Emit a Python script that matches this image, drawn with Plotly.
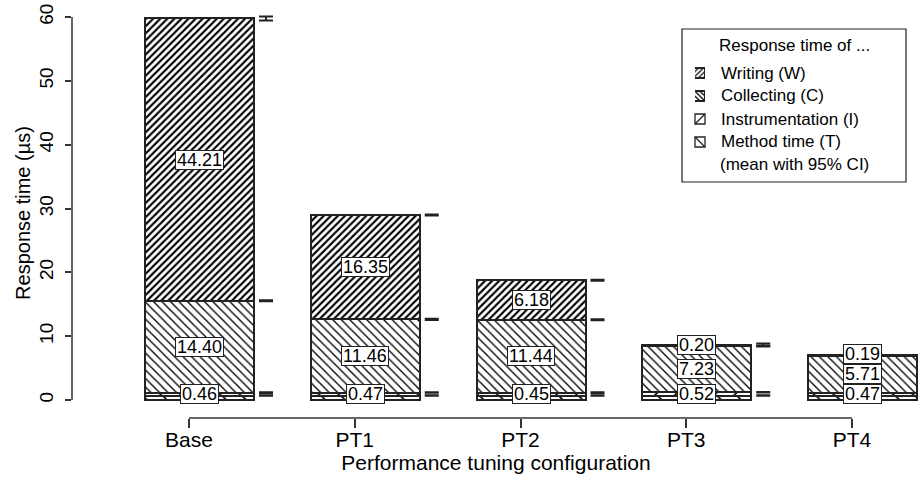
import plotly.graph_objects as go

# ---- data ----
configs = ["Base", "PT1", "PT2", "PT3", "PT4"]
method_T = [0.70, 0.70, 0.70, 0.70, 0.70]
instr_I = [0.46, 0.47, 0.45, 0.52, 0.47]
collect_C = [14.40, 11.46, 11.44, 7.23, 5.71]
writing_W = [44.21, 16.35, 6.18, 0.20, 0.19]
ci_T = [0.05, 0.05, 0.05, 0.05, 0.05]
ci_I = [0.05, 0.05, 0.05, 0.05, 0.05]
ci_C = [0.08, 0.08, 0.08, 0.08, 0.08]
ci_W = [0.30, 0.08, 0.08, 0.20, 0.10]
y_ticks = [0, 10, 20, 30, 40, 50, 60]
legend_title = "Response time of ..."
legend_footer = "(mean with 95% CI)"

FONT = "Liberation Sans, Arial, sans-serif"
n = len(configs)
tick_pos = list(range(n))

# plot-area geometry (px, body margin removed)
W_, H_ = 920, 481
L, R, T, B = 72, 920, 8, 418
pw, ph = R - L, B - T
X0PX, XUNIT = 189.0, 165.75      # px of first tick, px per category
Y0PX, YUNIT = 400.0, 6.383       # px of y=0, px per unit

bar_off = 10.5 / XUNIT
bar_w = 109 / XUNIT
bar_x = [p + bar_off for p in tick_pos]
err_x = [p + bar_off + 66.5 / XUNIT for p in tick_pos]


def px(xp):
    return (xp - L) / pw


def py(yp):
    return (B - yp) / ph


fig = go.Figure()

series = [
    ("Method time (T)", method_T, "\\", 14, 0.12),
    ("Instrumentation (I)", instr_I, "/", 14, 0.12),
    ("Collecting (C)", collect_C, "\\", 6, 0.22),
    ("Writing (W)", writing_W, "/", 5, 0.42),
]
for name, vals, shp, sz, sol in series:
    fig.add_trace(go.Bar(
        x=bar_x, y=vals, name=name, width=bar_w, showlegend=False,
        marker=dict(color="white",
                    line=dict(color="#222222", width=2),
                    pattern=dict(shape=shp, size=sz, solidity=sol,
                                 fgcolor="black", bgcolor="white",
                                 fillmode="replace")),
        hoverinfo="skip",
    ))

# cumulative levels and CI marks
lev_T = method_T
lev_I = [a + b for a, b in zip(lev_T, instr_I)]
lev_C = [a + b for a, b in zip(lev_I, collect_C)]
lev_W = [a + b for a, b in zip(lev_C, writing_W)]
for lev, ci in [(lev_T, ci_T), (lev_I, ci_I), (lev_C, ci_C), (lev_W, ci_W)]:
    fig.add_trace(go.Scatter(
        x=err_x, y=lev, mode="markers", showlegend=False,
        marker=dict(size=1, color="rgba(0,0,0,0)"),
        error_y=dict(type="data", array=ci, visible=True, width=7,
                     thickness=2, color="#222222"),
        hoverinfo="skip",
    ))

# value labels (segment middles, pushed up to avoid overlap)
min_gap = 3.1
for i in range(n):
    mids = [lev_T[i] + instr_I[i] / 2,
            lev_I[i] + collect_C[i] / 2,
            lev_C[i] + writing_W[i] / 2]
    texts = [instr_I[i], collect_C[i], writing_W[i]]
    ys = []
    for m in mids:
        if ys and m < ys[-1] + min_gap:
            m = ys[-1] + min_gap
        ys.append(m)
    for yv, t in zip(ys, texts):
        fig.add_annotation(x=bar_x[i], y=yv, text=f"{t:.2f}", showarrow=False,
                           xanchor="center", yanchor="middle",
                           font=dict(family=FONT, size=18, color="black"),
                           bgcolor="white", bordercolor="#222222",
                           borderwidth=1, borderpad=1, height=16)

# R-style axis lines
fig.add_shape(type="line", xref="paper", yref="y", x0=0, x1=0, y0=0, y1=60,
              line=dict(color="#333333", width=1.5))
fig.add_shape(type="line", xref="x", yref="paper", x0=tick_pos[0], x1=tick_pos[-1],
              y0=0, y1=0, line=dict(color="#333333", width=1.5))

# ---- manual legend ----
box_l, box_r, box_t, box_b = 682, 906, 29, 182
fig.add_shape(type="rect", xref="paper", yref="paper",
              x0=px(box_l), x1=px(box_r), y0=py(box_b), y1=py(box_t),
              line=dict(color="#222222", width=1.2), fillcolor="white", layer="below")
fig.add_annotation(xref="paper", yref="paper", x=px((box_l + box_r) / 2), y=py(46),
                   xanchor="center", yanchor="middle",
                   text=legend_title, showarrow=False,
                   font=dict(family=FONT, size=17, color="black"))
fig.add_annotation(xref="paper", yref="paper", x=px((box_l + box_r) / 2), y=py(164),
                   xanchor="center", yanchor="middle",
                   text=legend_footer, showarrow=False,
                   font=dict(family=FONT, size=17, color="black"))
row_top, row_h = 61.5, 23.0
sw_l, sw_r, sw_h = 695, 705, 10
leg_series = list(reversed(series))  # W, C, I, T
for r, (name, vals, shp, sz, sol) in enumerate(leg_series):
    yc = row_top + row_h * (r + 0.5)
    fig.add_annotation(xref="paper", yref="paper", x=px(719), y=py(yc),
                       xanchor="left", yanchor="middle", text=name, showarrow=False,
                       font=dict(family=FONT, size=17, color="black"))
    if sz < 10:
        # dense hatch swatch drawn with the same pattern as the bars
        fig.add_trace(go.Bar(
            x=[1], y=[len(leg_series) - r - 0.5], orientation="h",
            width=[sw_h / row_h],
            xaxis="x2", yaxis="y2", showlegend=False, hoverinfo="skip",
            marker=dict(color="white", line=dict(color="#222222", width=1.3),
                        pattern=dict(shape=shp, size=3.5, solidity=0.35,
                                     fgcolor="black", bgcolor="white",
                                     fillmode="replace")),
        ))
    else:
        # sparse hatch swatch: a box with a single diagonal
        fig.add_shape(type="rect", xref="paper", yref="paper",
                      x0=px(sw_l), x1=px(sw_r), y0=py(yc + sw_h / 2), y1=py(yc - sw_h / 2),
                      line=dict(color="#222222", width=1.3), fillcolor="white")
        if shp == "/":
            ya, yb = yc + sw_h / 2, yc - sw_h / 2
        else:
            ya, yb = yc - sw_h / 2, yc + sw_h / 2
        fig.add_shape(type="line", xref="paper", yref="paper",
                      x0=px(sw_l), x1=px(sw_r), y0=py(ya), y1=py(yb),
                      line=dict(color="#222222", width=1.3))

fig.update_layout(
    width=W_, height=H_,
    margin=dict(l=L, r=W_ - R, t=T, b=H_ - B),
    paper_bgcolor="white", plot_bgcolor="white",
    barmode="stack", bargap=0,
    font=dict(family=FONT, size=20, color="black"),
    showlegend=False,
    xaxis=dict(range=[-(X0PX - L) / XUNIT, (R - X0PX) / XUNIT],
               tickmode="array", tickvals=tick_pos, ticktext=configs,
               ticks="outside", ticklen=9, tickwidth=1.5, tickcolor="#333333",
               tickfont=dict(size=21), ticklabelstandoff=-6,
               showgrid=False, zeroline=False, showline=False,
               title=dict(text="Performance tuning configuration", standoff=0,
                          font=dict(size=21))),
    yaxis=dict(range=[-(B - Y0PX) / YUNIT, (Y0PX - T) / YUNIT],
               tickmode="array", tickvals=y_ticks,
               ticks="outside", ticklen=6, tickwidth=1.5, tickcolor="#333333",
               tickangle=-90, tickfont=dict(size=19), ticklabelstandoff=4,
               showgrid=False, zeroline=False, showline=False,
               title=dict(text="Response time (µs)", standoff=0,
                          font=dict(size=20))),
    xaxis2=dict(domain=[px(sw_l), px(sw_r)], range=[0, 1], anchor="y2",
                visible=False, fixedrange=True),
    yaxis2=dict(domain=[py(row_top + 4 * row_h), py(row_top)], range=[0, 4],
                anchor="x2", visible=False, fixedrange=True),
)

fig.write_html("out.html", config={"displayModeBar": False},
               post_script="document.body.style.margin='0';")
